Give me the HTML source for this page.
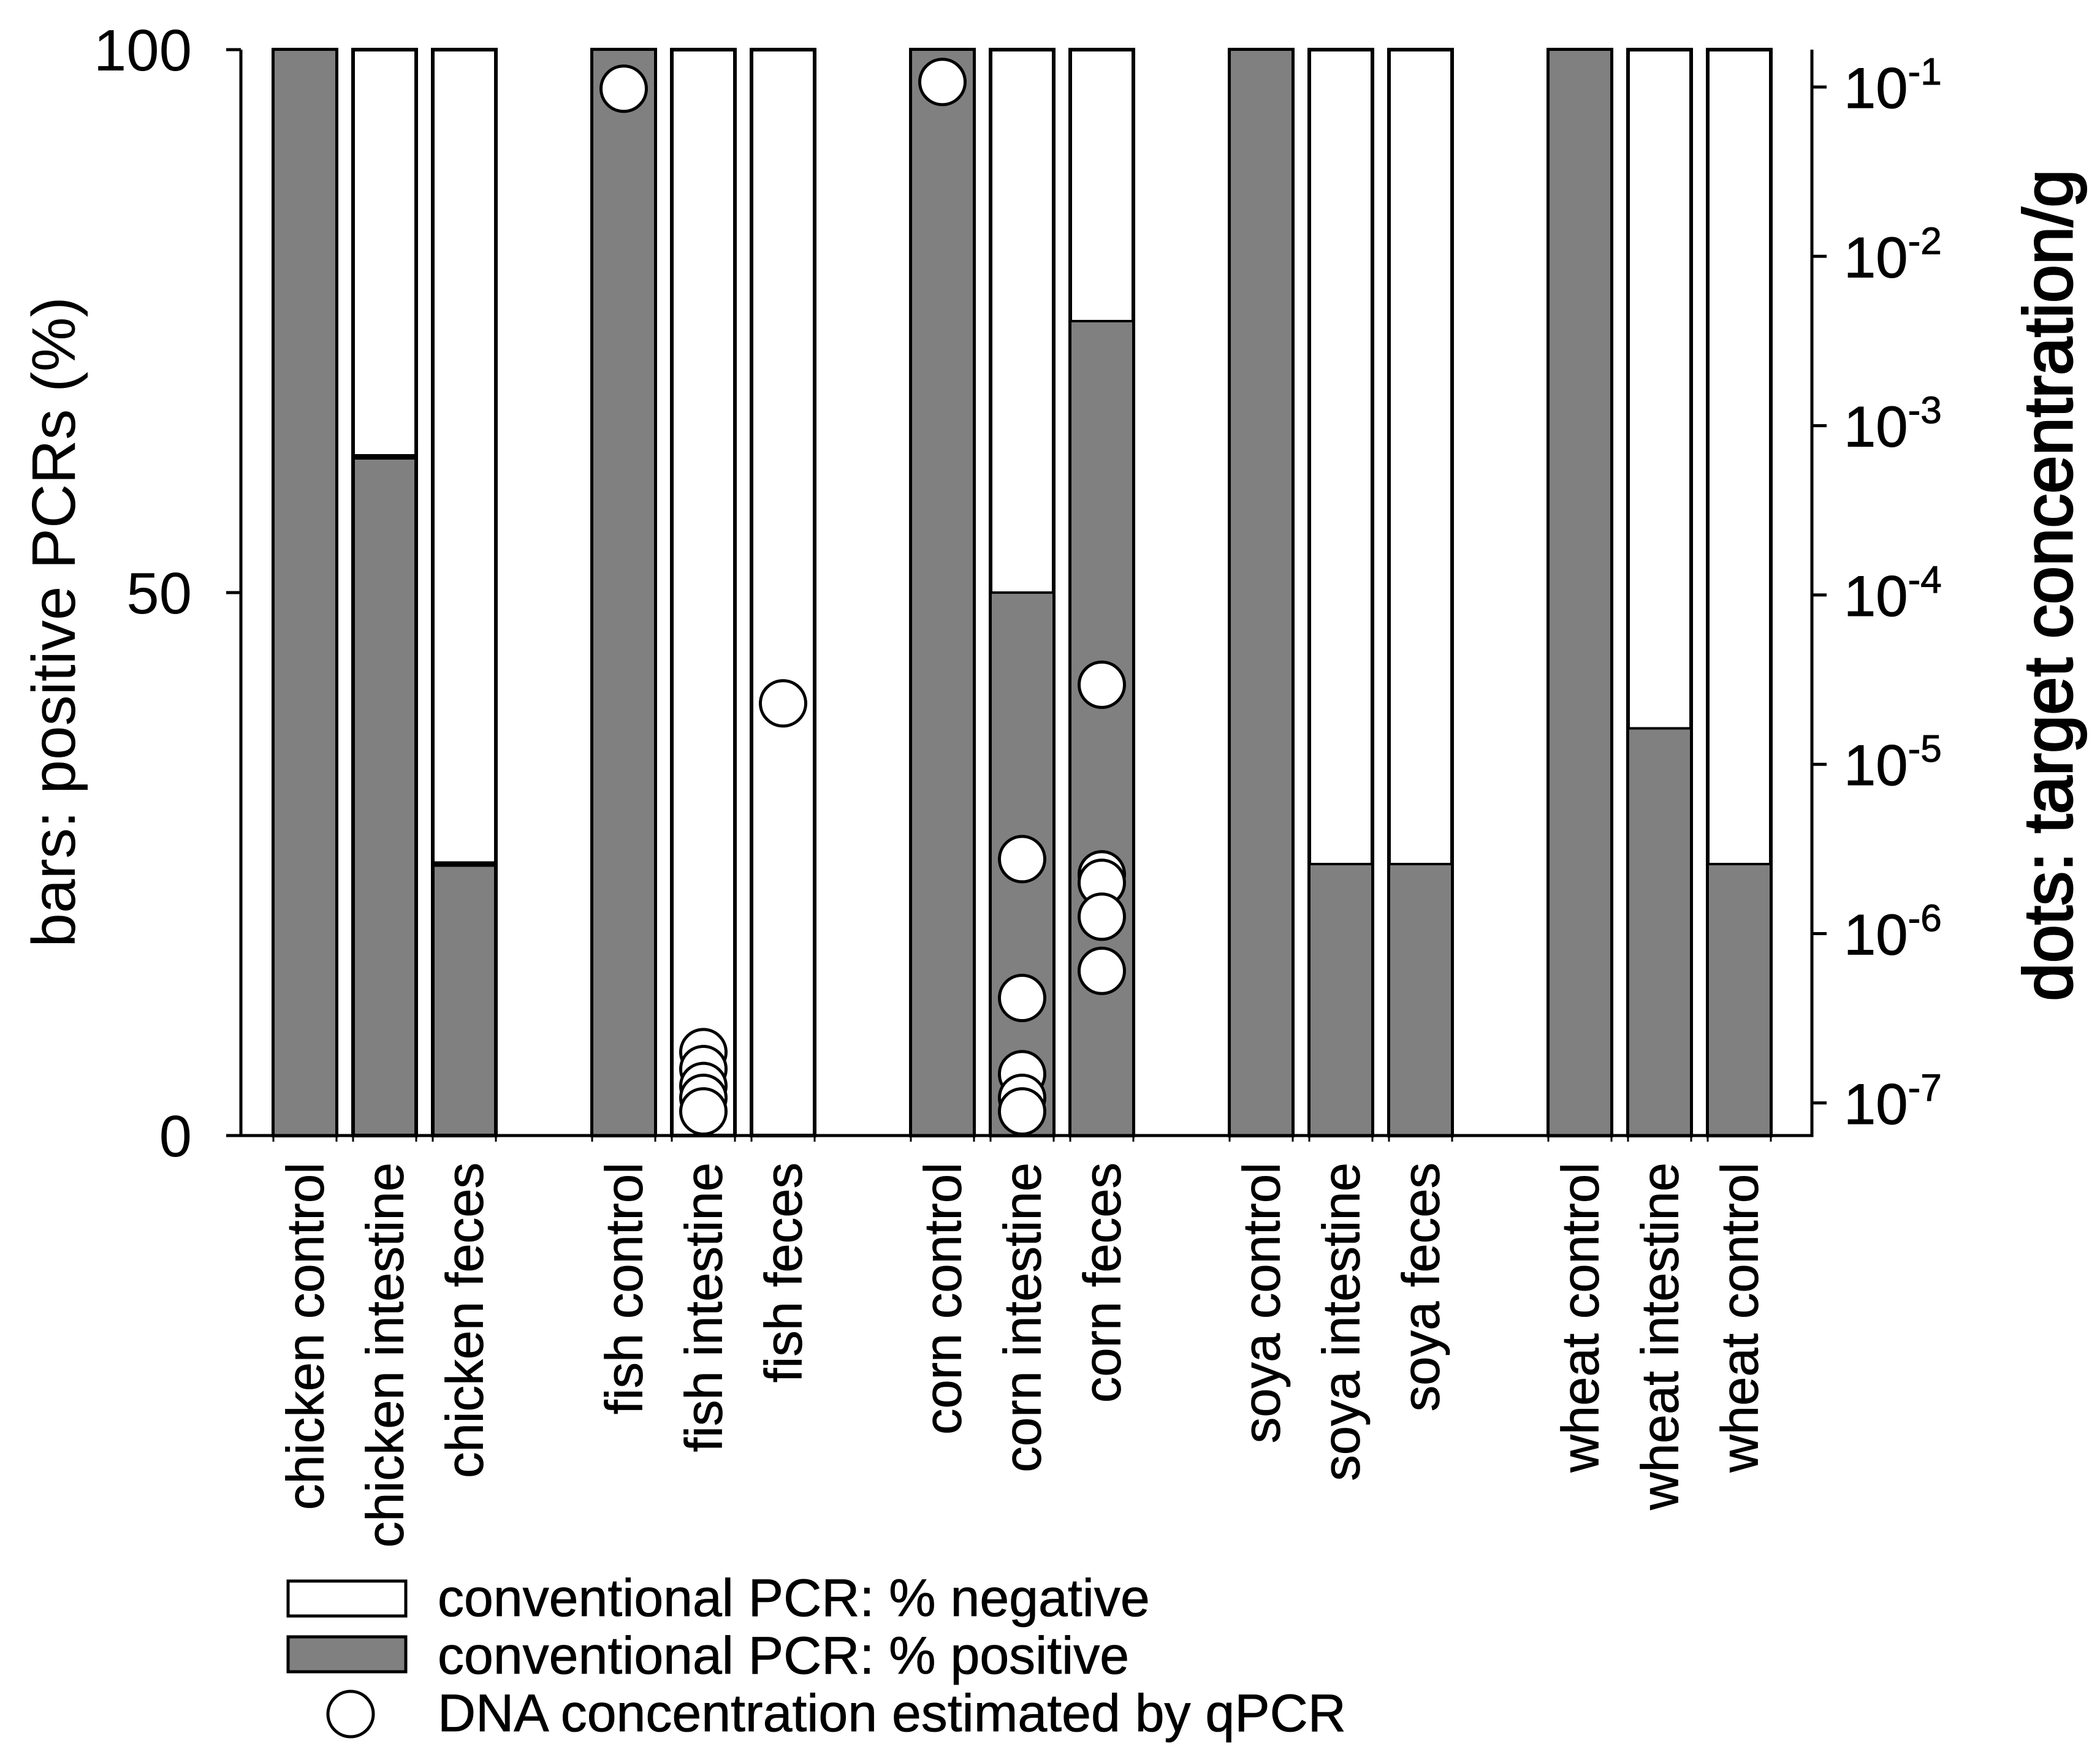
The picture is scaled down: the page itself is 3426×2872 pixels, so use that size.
<!DOCTYPE html>
<html><head><meta charset="utf-8"><style>
html,body{margin:0;padding:0;background:#fff;}
svg{display:block;font-family:"Liberation Sans",Arial,sans-serif;}
</style></head><body>
<svg id="chart" width="3426" height="2872" viewBox="0 0 3426 2872" xmlns="http://www.w3.org/2000/svg"></svg>
<script>
const categories = ["chicken control","chicken intestine","chicken feces","fish control","fish intestine","fish feces","corn control","corn intestine","corn feces","soya control","soya intestine","soya feces","wheat control","wheat intestine","wheat control"];
const positivePct = [100,62.5,25,100,0,0,100,50,75,100,25,25,100,37.5,25];
const thickTop = [false,true,true,false,false,false,false,false,false,false,false,false,false,false,false];
const dotCategory = [3,4,4,4,4,4,5,6,7,7,7,7,7,8,8,8,8,8];
const dotLog10 = [-1.01,-6.70,-6.80,-6.90,-6.97,-7.05,-4.64,-0.97,-5.56,-6.38,-6.83,-6.97,-7.05,-4.53,-5.65,-5.70,-5.90,-6.22];
const leftTicks = [0,50,100];
const rightTicks = [-1,-2,-3,-4,-5,-6,-7];

const NS="http://www.w3.org/2000/svg";
const svg=document.getElementById('chart');
const L=393,R=2956,T=81,B=1853;
const yL=v=>B-(v/100)*(B-T);
const yR=lg=>142+(-1-lg)*276.3;
const barW=103;
const xBar=i=>446+Math.floor(i/3)*520+(i%3)*130;
function mk(tag,attrs,parent){const e=document.createElementNS(NS,tag);for(const k in attrs)e.setAttribute(k,attrs[k]);(parent||svg).appendChild(e);return e;}

categories.forEach((c,i)=>{
  const x=xBar(i);
  const w=mk('rect',{x:x,y:yL(100),width:barW,height:yL(0)-yL(100),fill:'#fff',stroke:'#000','stroke-width':6});
  
  
  if(positivePct[i]>0){
    const p=mk('rect',{x:x,y:yL(positivePct[i]),width:barW,height:yL(0)-yL(positivePct[i]),fill:'#808080',stroke:'#000','stroke-width':thickTop[i]?6:4});
    
    
    if(thickTop[i]){
      const ln=mk('line',{x1:x,x2:x+barW,y1:yL(positivePct[i]),y2:yL(positivePct[i]),stroke:'#000','stroke-width':9});
      
      
    }
  }
  [x,x+barW].forEach(tx=>{mk('line',{x1:tx,x2:tx,y1:B,y2:B+10,stroke:'#000','stroke-width':3});});
  const t=mk('text',{x:0,y:0,'font-size':85,'text-anchor':'end','stroke':'#000','stroke-width':0.8,transform:`translate(${x+barW/2+30},1897) rotate(-90)`});
  t.textContent=c;
  
  
});

const ax=mk('path',{d:`M${L},${T} V${B} H${R} V${T}`,fill:'none',stroke:'#000','stroke-width':5});



leftTicks.forEach(v=>{
  mk('line',{x1:L-24,x2:L,y1:yL(v),y2:yL(v),stroke:'#000','stroke-width':5});
  const t=mk('text',{x:313,y:yL(v)+34,'font-size':96,'text-anchor':'end'});
  t.textContent=v;
  
  
});
rightTicks.forEach(v=>{
  mk('line',{x1:R,x2:R+24,y1:yR(v),y2:yR(v),stroke:'#000','stroke-width':5});
  const t=mk('text',{x:3008,y:yR(v)+34,'font-size':94,'stroke':'#000','stroke-width':1});
  t.textContent='10';
  const s=document.createElementNS(NS,'tspan');
  s.setAttribute('dy','-38');s.setAttribute('font-size','62');
  s.textContent='-'+(-v);
  t.appendChild(s);
  
  
});

dotLog10.forEach((v,k)=>{
  const i=dotCategory[k];
  const c=mk('circle',{cx:xBar(i)+barW/2,cy:yR(v),r:37,fill:'#fff',stroke:'#000','stroke-width':5});
  
  
});

let t1=mk('text',{x:0,y:0,'font-size':100,'text-anchor':'middle',transform:'translate(122,1015) rotate(-90)'});
t1.textContent='bars: positive PCRs (%)';


let t2=mk('text',{x:0,y:0,'font-size':112,'text-anchor':'middle','stroke':'#000','stroke-width':3,transform:'translate(3380,955) rotate(-90)'});
t2.textContent='dots: target concentration/g';



const lg=mk('g',{});


mk('rect',{x:470,y:2580,width:192,height:57,fill:'#fff',stroke:'#000','stroke-width':5},lg);
mk('rect',{x:470,y:2671,width:192,height:57,fill:'#808080',stroke:'#000','stroke-width':5},lg);
mk('circle',{cx:572,cy:2797,r:37,fill:'#fff',stroke:'#000','stroke-width':5},lg);
[['conventional PCR: % negative',2637],['conventional PCR: % positive',2731],['DNA concentration estimated by qPCR',2825]].forEach(([s,y])=>{
  const t=mk('text',{x:714,y:y,'font-size':86,'stroke':'#000','stroke-width':0.8},lg);
  t.textContent=s;
  
  
});
</script>
</body></html>
